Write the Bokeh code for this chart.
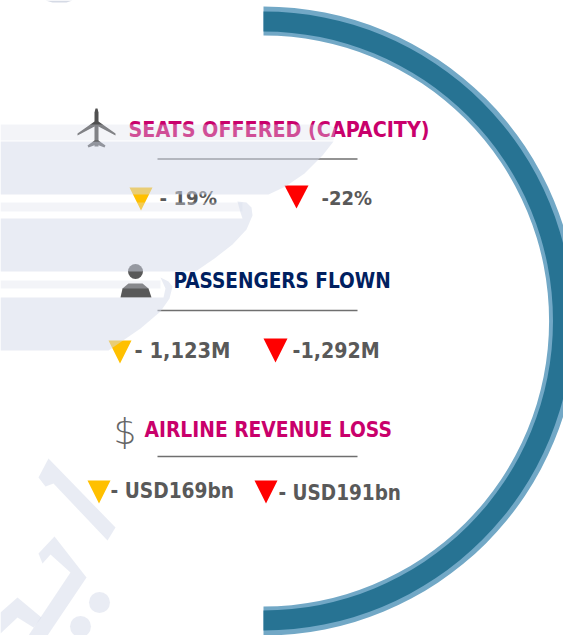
from bokeh.plotting import figure
from bokeh.models import Range1d
from bokeh.core.properties import value
from bokeh.embed import file_html
from bokeh.resources import INLINE

# ---- content
section_titles = ["SEATS OFFERED (CAPACITY)", "PASSENGERS FLOWN", "AIRLINE REVENUE LOSS"]
title_colors = ["#c9006b", "#002060", "#c9006b"]
forecast_a = ["- 19%", "- 1,123M", "- USD169bn"]
forecast_b = ["-22%", "-1,292M", "- USD191bn"]

# ---- layout (pixel positions in the page picture)
W, H = 563, 635
OFF = 0
FONT = "DejaVu Sans Condensed"
title_x = [128, 173, 144]
title_base = [129, 280, 429]
title_size = ["21.3px", "20.6px", "20.8px"]
rule_y = [158.5, 310, 456]
a_x = [159, 134, 110]
a_base = [197, 350, 490]
a_size = ["20.3px", "21.7px", "20.7px"]
b_x = [321, 292, 278]
b_base = [197, 350, 492]
b_size = ["20px", "21.2px", "20.5px"]
a_tri = [(129, 152, 187, 210), (108, 131, 340, 363), (87, 110, 480, 503)]
b_tri = [(284, 308, 185, 208), (263, 287, 338, 362), (254, 277, 480, 503)]
AMBER, RED, GREY = "#ffc000", "#ff0000", "#595959"
WM, WM_ALPHA = "#d3d9e9", 0.5
BAND, BAND_ALPHA = "#dde0eb", 0.35

p = figure(width=W, height=H, x_range=Range1d(OFF, OFF + W), y_range=Range1d(OFF + H, OFF),
           output_backend="svg", toolbar_location=None, min_border=0,
           background_fill_color="white", border_fill_color="white", outline_line_color=None)
p.axis.visible = False
p.grid.visible = False

# ---- ring
p.annular_wedge(x=[263], y=[320.5], inner_radius=285.5, outer_radius=314.5,
                start_angle=-1.5708, end_angle=1.5708, color="#72a8c6", line_color=None)
p.annular_wedge(x=[263], y=[320.5], inner_radius=289.5, outer_radius=309.5,
                start_angle=-1.5708, end_angle=1.5708, color="#277393", line_color=None)

# ---- rules
for y in rule_y:
    p.line([157, 357], [y, y], line_color="#6f6f6f", line_width=1.6)

# ---- triangles
def tri(box, color):
    x0, x1, y0, y1 = box
    p.patch([x0, x1, (x0 + x1) / 2], [y0, y0, y1], color=color, line_color=None)
for b in a_tri:
    tri(b, AMBER)
for b in b_tri:
    tri(b, RED)

# ---- texts
for t, x, y, c, s in zip(section_titles, title_x, title_base, title_colors, title_size):
    p.text([x], [y], text=[t], text_color=c, text_font=value(FONT), text_font_style="bold",
           text_font_size=s, text_baseline="alphabetic")
for t, x, y, s in zip(forecast_a + forecast_b, a_x + b_x, a_base + b_base, a_size + b_size):
    p.text([x], [y], text=[t], text_color=GREY, text_font=value(FONT), text_font_style="bold",
           text_font_size=s, text_baseline="alphabetic")
p.text([113], [431], text=["$"], text_color="#666666", text_font=value("DejaVu Sans Light"),
       text_font_style="normal", text_font_size="36px", text_baseline="alphabetic")

# ---- icons
# aeroplane
p.patch([94, 95, 97, 98, 98, 94], [112, 108, 108, 112, 146, 146], color="#505050", line_color=None)
p.patch([94, 98, 115, 115, 98, 94, 77, 77], [121, 121, 133, 135, 126, 126, 135, 133], color="#505050", line_color=None)
p.patch([94, 98, 105, 104, 96, 88, 87], [140, 140, 145, 147, 144, 147, 145], color="#505050", line_color=None)
# person
p.circle([135], [271], radius=7.5, color=GREY, line_color=None)
p.patch([120, 122, 128, 142, 148, 151, 151, 120], [297, 288, 283, 283, 288, 297, 297, 297],
        color=GREY, line_color=None)

# ---- watermark, lying over everything with half opacity
p.patch([45, 72, 66, 52], [0, 0, 2, 2], color="#d5dae5", line_color=None)
p.patch([0, 328, 335, 333, 0], [124, 124, 128, 140, 140], color=BAND, alpha=BAND_ALPHA, line_color=None)
p.patch([0, 307, 333, 322, 304, 285, 268, 0], [141, 141, 141, 155, 173, 186, 194, 194],
        color=WM, alpha=WM_ALPHA, line_color=None)
p.patch([0, 242, 242, 0], [202, 202, 211, 211], color=BAND, alpha=BAND_ALPHA, line_color=None)
p.patch([0, 242, 240, 237, 246, 251, 252, 246, 232, 214, 195, 0],
        [218, 218, 212, 201, 202, 207, 215, 229, 244, 258, 271, 271],
        color=WM, alpha=WM_ALPHA, line_color=None)
p.patch([0, 160, 160, 0], [280, 280, 288, 288], color=BAND, alpha=BAND_ALPHA, line_color=None)
p.patch([0, 163, 165, 160, 168, 172, 169, 160, 140, 108, 0],
        [297, 297, 288, 277, 281, 286, 298, 311, 328, 350, 350],
        color=WM, alpha=WM_ALPHA, line_color=None)
# calligraphy lower left
p.patch([48, 115, 107, 53, 45, 38], [458, 527, 540, 483, 486, 477], color=WM, alpha=WM_ALPHA, line_color=None)
p.patch([54, 86, 47, 28, 70, 50, 42, 38], [536, 577, 635, 635, 572, 554, 563, 553],
        color=WM, alpha=WM_ALPHA, line_color=None)
p.patch([17, 41, 33, 17, 0, 0], [597, 617, 627, 617, 633, 612], color=WM, alpha=WM_ALPHA, line_color=None)
p.circle([99, 80], [602, 626], radius=10.5, color=WM, alpha=WM_ALPHA, line_color=None)

open("out.html", "w").write(file_html(p, INLINE))
